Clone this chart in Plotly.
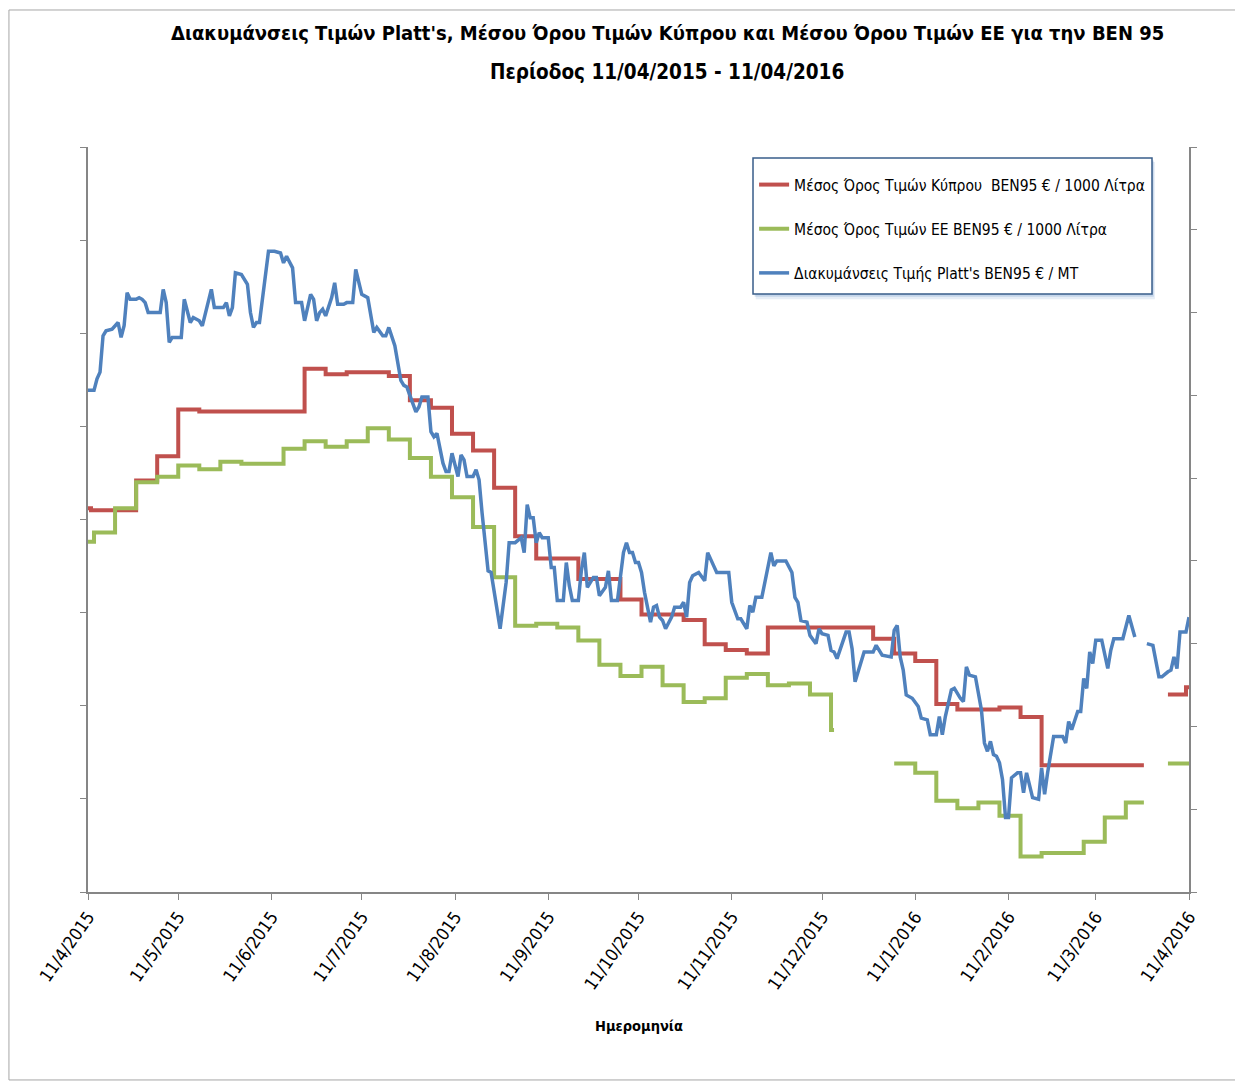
import pandas as pd
import plotly.graph_objects as go

START = "2015-04-11"

# ---- Cyprus average price (EUR / 1000 L), weekly steps (day offset from START)
cy_days = [0, 1, 16, 23, 30, 37, 72, 79, 86, 100, 107, 114, 121, 128, 135, 142, 149, 163, 177, 184,
           198, 205, 212, 219, 226, 261, 268, 275, 282, 289, 303, 310, 317, 351, 352, 359, 365, 366]
cy_vals = [1206, 1205, 1221, 1234, 1259, 1258, 1281, 1278, 1279, 1277, 1264, 1260, 1246, 1237, 1217,
           1191, 1179, 1168, 1157, 1149, 1146, 1133, 1130, 1128, 1142, 1136, 1128, 1124, 1101, 1098,
           1099, 1094, 1068, 1068, None, 1106, 1110, 1110]

# ---- EU average price (EUR / 1000 L)
eu_days = [0, 2, 9, 16, 23, 30, 37, 44, 51, 65, 72, 79, 86, 93, 100, 107, 114, 121, 128, 135, 142,
           149, 156, 163, 170, 177, 184, 191, 198, 205, 212, 219, 226, 233, 240, 247, 248, 249,
           268, 275, 282, 289, 296, 303, 310, 317, 331, 338, 345, 351, 352, 359, 366]
eu_vals = [1188, 1193, 1206, 1220, 1223, 1229, 1227, 1231, 1230, 1238, 1242, 1239, 1242, 1249, 1243,
           1233, 1223, 1212, 1196, 1169, 1143, 1144, 1142, 1135, 1122, 1116, 1121, 1111, 1102, 1104,
           1115, 1117, 1111, 1112, 1106, 1087, 1087, None,
           1069, 1064, 1049, 1045, 1048, 1041, 1019, 1021, 1027, 1040, 1048, 1048, None, 1069, 1070]

# ---- Platt's price (EUR / MT), daily
pl_days = [0, 2, 3, 4, 5, 6, 8, 10, 11, 12, 13, 14, 16, 17, 18, 19, 20, 22, 24, 25, 26, 27, 28, 31,
           32, 34, 35, 37, 38, 41, 42, 45, 46, 47, 48, 49, 51, 53, 54, 55, 56, 57, 59, 60, 62, 64, 65,
           66, 68, 69, 71, 72, 74, 75, 76, 77, 78, 79, 81, 82, 83, 85, 86, 88, 89, 91, 93, 95, 96, 98,
           99, 100, 102, 104, 105, 106, 109, 110, 111, 113, 114, 115, 116, 118, 119, 120, 121, 123,
           124, 125, 126, 128, 129, 130, 131, 133, 134, 136, 137, 139, 140, 142, 144, 145, 146, 147,
           148, 149, 150, 151, 153, 154, 155, 156, 158, 159, 160, 161, 163, 164, 165, 166, 168, 169,
           170, 172, 173, 174, 176, 178, 179, 180, 181, 182, 183, 184, 185, 187, 188, 189, 190, 191,
           192, 194, 195, 197, 198, 199, 200, 201, 203, 205, 206, 208, 209, 212, 213, 214, 216, 217,
           219, 220, 221, 222, 224, 227, 228, 229, 232, 234, 235, 236, 237, 239, 240, 242, 243, 244,
           246, 247, 248, 249, 250, 252, 253, 254, 255, 257, 258, 261, 262, 264, 266, 267, 268, 269,
           270, 271, 272, 274, 276, 277, 279, 280, 282, 283, 284, 285, 287, 288, 290, 291, 292, 293,
           295, 297, 298, 299, 300, 301, 302, 303, 304, 305, 306, 307, 309, 310, 311, 312, 314, 316,
           317, 318, 319, 321, 324, 325, 326, 327, 329, 330, 331, 332, 333, 334, 335, 337, 339, 340,
           341, 344, 346, 347, 348, 350, 352, 354, 356, 357, 359, 360, 361, 362, 363, 365, 366]
pl_vals = [603, 603, 610, 614, 636, 639, 640, 644, 635, 642, 662, 658, 658, 659, 658, 656, 650, 650,
           650, 664, 656, 632, 635, 635, 658, 644, 647, 645, 642, 664, 653, 653, 656, 648, 653, 674,
           673, 667, 650, 641, 644, 644, 671, 687, 687, 686, 680, 684, 677, 656, 656, 645, 661, 658,
           645, 650, 652, 648, 659, 668, 655, 655, 656, 656, 676, 661, 659, 638, 641, 636, 636, 641,
           630, 609, 606, 605, 590, 593, 599, 599, 578, 575, 577, 559, 554, 554, 565, 551, 564, 561,
           551, 551, 555, 549, 529, 494, 493, 472, 459, 487, 511, 511, 514, 505, 534, 526, 526, 511,
           517, 514, 514, 496, 496, 476, 476, 499, 485, 476, 476, 494, 505, 484, 490, 490, 479, 484,
           494, 476, 476, 505, 511, 505, 505, 499, 499, 493, 481, 463, 472, 473, 466, 464, 459, 466,
           472, 472, 475, 466, 487, 491, 493, 488, 505, 497, 493, 493, 493, 475, 465, 465, 459, 473,
           469, 478, 478, 505, 497, 500, 500, 493, 478, 475, 464, 463, 455, 450, 459, 456, 455, 446,
           445, 441, 446, 457, 457, 447, 427, 439, 445, 445, 449, 443, 442, 442, 458, 461, 442, 434,
           419, 417, 412, 405, 404, 395, 395, 406, 395, 406, 422, 423, 417, 415, 436, 431, 430, 410,
           390, 385, 391, 383, 382, 378, 368, 345, 345, 369, 372, 372, 360, 372, 357, 356, 375, 359,
           372, 394, 394, 390, 403, 398, 409, 409, 429, 423, 445, 438, 452, 452, 435, 446, 453, 453,
           467, 460, 454, None, 450, 449, 430, 430, 433, 434, 442, 435, 457, 457, 466]

tick_dates = ["2015-04-11", "2015-05-11", "2015-06-11", "2015-07-11", "2015-08-11", "2015-09-11",
              "2015-10-11", "2015-11-11", "2015-12-11", "2016-01-11", "2016-02-11", "2016-03-11",
              "2016-04-11"]
tick_labels = ["11/4/2015", "11/5/2015", "11/6/2015", "11/7/2015", "11/8/2015", "11/9/2015",
               "11/10/2015", "11/11/2015", "11/12/2015", "11/1/2016", "11/2/2016", "11/3/2016",
               "11/4/2016"]

names = ["Μέσος Όρος Τιμών Κύπρου  BEN95 € / 1000 Λίτρα",
         "Μέσος Όρος Τιμών ΕΕ BEN95 € / 1000 Λίτρα",
         "Διακυμάνσεις Τιμής Platt's BEN95 € / MT"]

start = pd.Timestamp(START)


def to_dates(days):
    return [start + pd.Timedelta(days=d) for d in days]


FONT = "DejaVu Sans Condensed, Liberation Sans Narrow, sans-serif"
AX = "#868686"

fig = go.Figure()
fig.add_trace(go.Scatter(x=to_dates(cy_days), y=cy_vals, mode="lines", name=names[0],
                         line=dict(color="#C0504D", width=4, shape="hv"), legendgroup="a",
                         connectgaps=False))
fig.add_trace(go.Scatter(x=to_dates(eu_days), y=eu_vals, mode="lines", name=names[1],
                         line=dict(color="#9BBB59", width=4, shape="hv"), legendgroup="b",
                         connectgaps=False))
fig.add_trace(go.Scatter(x=to_dates(pl_days), y=pl_vals, mode="lines", name=names[2],
                         line=dict(color="#4F81BD", width=3.5), legendgroup="c",
                         connectgaps=False, yaxis="y2"))

shadow = [
    dict(type="rect", xref="paper", yref="paper", x0=0.6065, x1=0.9690, y0=0.7955, y1=0.9800,
         line=dict(width=0), fillcolor="rgba(79,129,189,0.14)", layer="above"),
    dict(type="rect", xref="paper", yref="paper", x0=0.6055, x1=0.9680, y0=0.7990, y1=0.9820,
         line=dict(width=0), fillcolor="rgba(79,129,189,0.22)", layer="above"),
]

fig.update_layout(
    width=1235, height=1075,
    margin=dict(l=80, r=54, t=139, b=191),
    paper_bgcolor="white", plot_bgcolor="white",
    font=dict(family=FONT, color="#000000"),
    showlegend=True,
    legend=dict(x=0.605, y=0.9718, xanchor="left", yanchor="top",
                borderwidth=0, bgcolor="rgba(0,0,0,0)",
                font=dict(size=15.5, family=FONT), tracegroupgap=21, traceorder="grouped"),
    xaxis=dict(type="date", range=[tick_dates[0], tick_dates[-1]],
               tickvals=tick_dates, ticktext=tick_labels, tickangle=-55,
               tickfont=dict(size=17.5, family=FONT, color="#000000"),
               showgrid=False, zeroline=False, showline=True, linecolor=AX, linewidth=1.5,
               ticks="outside", ticklen=6, tickcolor=AX),
    yaxis=dict(range=[1000, 1400], tick0=1000, dtick=50, showticklabels=False,
               showgrid=False, zeroline=False, showline=True, linecolor=AX, linewidth=1.5,
               ticks="outside", ticklen=6, tickcolor=AX),
    yaxis2=dict(range=[300, 750], tick0=300, dtick=50, showticklabels=False,
                overlaying="y", side="right",
                showgrid=False, zeroline=False, showline=True, linecolor=AX, linewidth=1.5,
                ticks="outside", ticklen=6, tickcolor=AX),
    annotations=[
        dict(text="<b>Διακυμάνσεις Τιμών Platt's, Μέσου Όρου Τιμών Κύπρου και Μέσου Όρου Τιμών ΕΕ για την BEN 95</b>",
             xref="paper", yref="paper", x=0.526, y=1.153, xanchor="center", yanchor="middle",
             showarrow=False, font=dict(size=20, family=FONT)),
        dict(text="<b>Περίοδος 11/04/2015 - 11/04/2016</b>",
             xref="paper", yref="paper", x=0.526, y=1.1007, xanchor="center", yanchor="middle",
             showarrow=False, font=dict(size=20.5, family=FONT)),
        dict(text="<b>Ημερομηνία</b>", xref="paper", yref="paper", x=0.5, y=-0.18,
             xanchor="center", yanchor="middle", showarrow=False, font=dict(size=14.5, family=FONT)),
    ],
    shapes=shadow + [
        dict(type="rect", xref="paper", yref="paper", x0=0.604, x1=0.9664, y0=0.8027, y1=0.9852,
             line=dict(color="#385D8A", width=1.5), fillcolor="white", layer="above"),
        dict(type="rect", xref="paper", yref="paper", x0=-0.0718, x1=1.0463, y0=-0.2523, y1=1.1839,
             line=dict(color="#A6A6A6", width=1), fillcolor="rgba(0,0,0,0)", layer="below"),
    ],
)

fig.write_html("out.html")
